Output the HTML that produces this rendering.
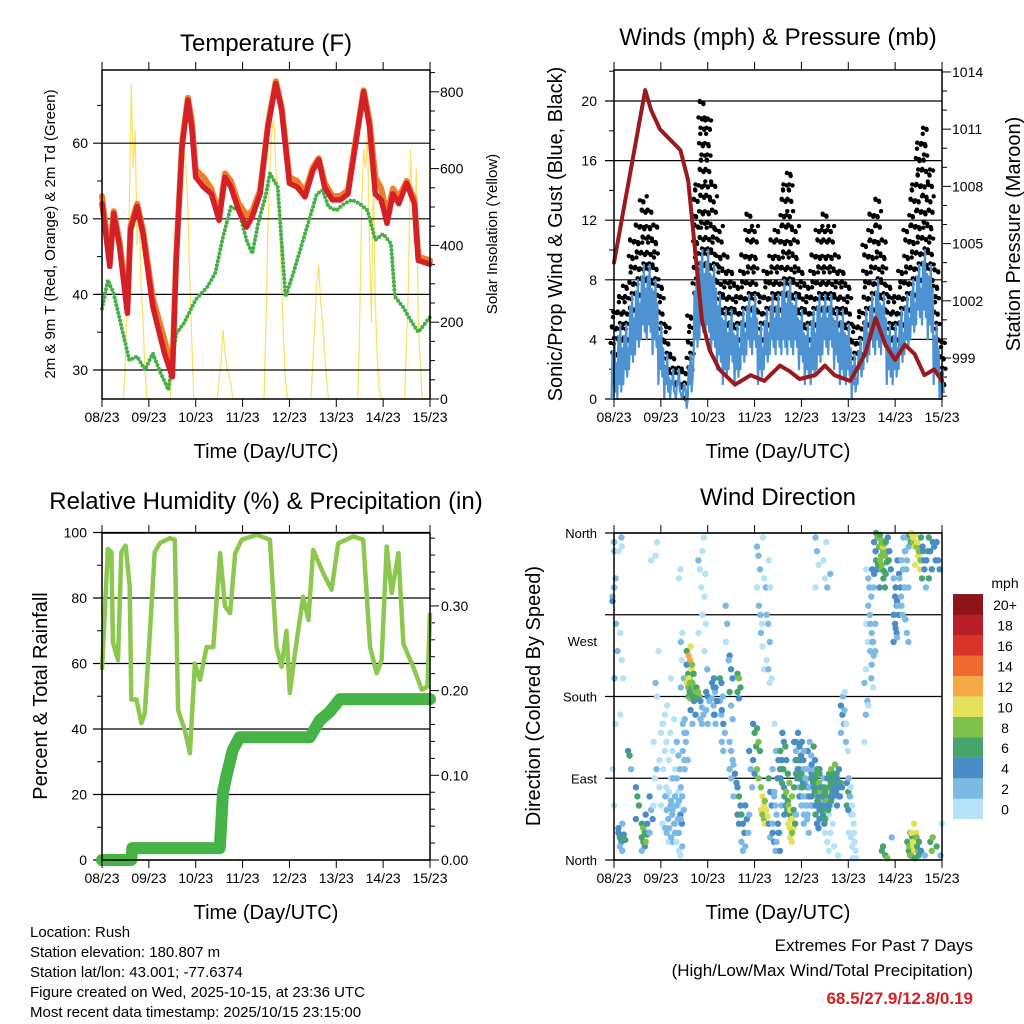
<!DOCTYPE html>
<html><head><meta charset="utf-8">
<style>
html,body{margin:0;padding:0;background:#fff;}
svg{display:block;font-family:"Liberation Sans",Arial,sans-serif;}
</style></head>
<body>
<svg id="fig" width="1024" height="1024" viewBox="0 0 1024 1024" xmlns="http://www.w3.org/2000/svg">
<text x="266" y="51" font-size="24" text-anchor="middle">Temperature (F)</text>
<text x="778" y="45" font-size="24" text-anchor="middle">Winds (mph) &amp; Pressure (mb)</text>
<text x="266" y="509" font-size="24" text-anchor="middle">Relative Humidity (%) &amp; Precipitation (in)</text>
<text x="778" y="505" font-size="24" text-anchor="middle">Wind Direction</text>
<text x="266" y="458" font-size="20" text-anchor="middle">Time (Day/UTC)</text>
<text x="778" y="458" font-size="20" text-anchor="middle">Time (Day/UTC)</text>
<text x="266" y="919" font-size="20" text-anchor="middle">Time (Day/UTC)</text>
<text x="778" y="919" font-size="20" text-anchor="middle">Time (Day/UTC)</text>
<text transform="translate(55,234) rotate(-90)" font-size="15" text-anchor="middle">2m &amp; 9m T (Red, Orange) &amp; 2m Td (Green)</text>
<text transform="translate(497,234) rotate(-90)" font-size="15" text-anchor="middle">Solar Insolation (Yellow)</text>
<text transform="translate(562,234) rotate(-90)" font-size="20" text-anchor="middle">Sonic/Prop Wind &amp; Gust (Blue, Black)</text>
<text transform="translate(1020,234) rotate(-90)" font-size="20" text-anchor="middle">Station Pressure (Maroon)</text>
<text transform="translate(47,696) rotate(-90)" font-size="20" text-anchor="middle">Percent &amp; Total Rainfall</text>
<text transform="translate(540,696) rotate(-90)" font-size="20" text-anchor="middle">Direction (Colored By Speed)</text>
<g font-size="15">
<text x="30" y="937">Location: Rush</text>
<text x="30" y="957">Station elevation: 180.807 m</text>
<text x="30" y="977">Station lat/lon: 43.001; -77.6374</text>
<text x="30" y="997">Figure created on Wed, 2025-10-15, at 23:36 UTC</text>
<text x="30" y="1017">Most recent data timestamp: 2025/10/15 23:15:00</text>
</g>
<g text-anchor="end">
<text x="973" y="951" font-size="17">Extremes For Past 7 Days</text>
<text x="973" y="976" font-size="17">(High/Low/Max Wind/Total Precipitation)</text>
<text x="973" y="1004" font-size="17" font-weight="bold" fill="#d42027">68.5/27.9/12.8/0.19</text>
</g>
</svg>
<script>
const dayLabels = ["08/23","09/23","10/23","11/23","12/23","13/23","14/23","15/23"];
const tempT = [0,4,6,9,13,14.6,18,21,26,32,36,38,41,44,46,48,52,56,60,63,66,70,74,77,81,85,89,92,96,100,104,108,111,114,118,122,126,130,134,137,140,143,146,149,152,156,160,162,168];
const tempRed = [52,43.7,50.7,46.3,37.5,48.5,51.6,48,38.4,32.2,29.1,44.5,59.5,65.7,62,55.5,54.2,53.3,49.8,55.5,54.2,51.1,48.9,50.3,53.3,62.2,67.9,64.4,54.7,54.2,52.9,56.4,57.8,54.2,52.5,52.5,53.3,60,66.8,62.2,53.3,52.5,49.4,53.3,52,54.7,52,44.5,44];
const tempOrange = [53,44.5,51,47,38,49,52,48.5,39.5,34,30,45,60,66,63,56.5,55.5,54,50.5,56,55,52,50.5,51,53.8,62.5,68.2,64.8,55.5,55,53.5,56.8,58,54.8,53,53,53.8,60.5,67,63,55.5,54,50.5,54,52.8,55,52.5,45,44.5];
const dewT = [0,3,6,10,14,18,22,26,30,34,38,42,48,54,58,62,66,70,74,77,80,84,86,90,94,98,102,106,110,113,116,120,124,128,132,136,140,144,148,150,154,158,162,168];
const dewV = [38.1,41.9,40.1,35.7,31.3,31.8,30,32.2,29.6,27.4,34.8,36.2,39.3,41,42.8,47.6,51.6,51.1,47.2,45.4,49.4,53.3,56,54.2,39.7,42.8,46.3,49.8,53.3,53.8,51.6,51.1,52,52.5,52,51.1,47.2,48,46.7,39.7,38.4,36.6,35,37];
const solarT = [0,11,12,13,14,15,16,17,18,19,20,21,22,23, 35,36,37,38,39,40,41,42,43,44,45,46,47, 59,60,61,62,63,64,65,66,67, 83,84,85,86,87,88,89,90,91,92,93,94,95, 107,108,109,110,111,112,113,114,115,116, 131,132,133,134,135,136,137,138,139,140,141,142,143, 155,156,157,158,159,160,161,162,163,164,168];
const solarV = [0,0,100,300,500,820,600,700,400,500,300,200,80,0, 0,150,300,450,550,650,700,650,600,500,300,150,0, 0,50,100,180,120,80,60,40,0, 0,200,450,600,700,730,600,550,450,300,150,50,0, 0,100,200,300,350,250,200,120,50,0, 0,200,500,650,600,700,400,200,600,250,100,30,0, 0,150,300,650,500,400,600,200,100,0,0];
const pressT = [0,16,19,23.5,34,38,41.5,45,49,54,62,70,77,85,90,95,103,108,113,121,128.6,134,139,144,149,154,159,164,168];
const pressV = [1004,1013.05,1012,1011,1009.9,1008.3,1004.7,1001,999.4,998.4,997.6,998.1,997.8,998.6,998.3,997.9,998.1,998.6,998.1,997.8,999.2,1001.1,999.7,998.9,999.7,999.2,998.1,998.4,997.8];
const windT = [0,3,6,9,12,15,18,21,24,27,30,33,36,39,42,45,48,51,54,57,60,63,66,69,72,75,78,81,84,87,90,93,96,99,102,105,108,111,114,117,120,123,126,129,132,135,138,141,144,147,150,153,156,159,162,165,168];
const windLo = [0,0,1,2,3,4,4,3,1,0,0,0,0,0,3,4,4,3,2,1,2,1,2,3,3,1,2,3,3,3,3,3,2,1,1,2,3,3,2,1,1,0,1,2,3,3,3,1,1,2,3,4,5,5,4,1,0];
const windHi = [4,5,5,7,8,9,9,8,5,3,2,2,1,3,8,10,10,9,7,6,6,5,6,7,7,5,6,7,7,8,8,7,6,5,6,7,7,7,6,6,5,3,4,6,7,8,7,5,5,6,7,8,9,10,9,5,2];
const gustV = [6,7,8,11,12,14,13,12,8,5,3,2,2,6,15,20,19,15,12,10,9,8,10,13,12,7,9,11,12,15,16,12,9,8,10,12,13,12,10,9,8,5,6,11,13,14,11,8,7,9,12,15,17,18,16,9,4];
const rhT = [0,3,4.8,5.6,8.2,9.9,12.1,14.2,15,17.6,20.2,21.9,24.4,27,29.6,34.7,37.3,39,42.4,45,47.6,50.2,53.6,57,60.5,63,65.6,68.2,71.6,79.3,86,89.4,92,94.5,96.2,98.8,103,105.7,108.2,113.3,117.6,121,128.7,133.8,137.3,140.7,143.2,145.8,148.4,151.8,154.4,159.4,163.8,166.7,168];
const rhV = [58,95,94,66.5,61,94,96,83.5,49,49,41.8,44.8,68,94,96.7,98.3,97.8,45.8,39.7,32.6,60,55,65,65,93.7,77.4,75.4,93.7,97.8,99.3,97.8,65,59,70,51,63,80.4,73.3,94.7,87.6,82.5,96.7,98.8,97.8,65,57,61,95.7,81.5,93.7,66,59,52,53,75.4];
const precipT = [0,15,15.5,60.3,61,62,63.8,67,70.5,106.5,111.6,116.7,121.9,168];
const precipV = [0,0,0.014,0.014,0.04,0.08,0.10,0.13,0.145,0.145,0.165,0.175,0.19,0.19];
const dirHours = [0,1,3,4,5,8,12,15,17,19,21,22,24,26,28,30,32,34,35,
38,39,40,41,43,45,48,51,55,60,64,
36,33,31,
27,29,30,32,34,35,
37,44,46,47,
60,62,64,66,68,70,72,74,76,78,80,82,
94,96,98,100,102,104,106,108,110,112,114,
52,56,58,
74,75,76,77,79,80,
82,83,84,85,86,87,88,89,90,91,92,93,94,95,96,97,98,99,100,101,
102,103,104,105,106,107,108,109,110,111,112,113,114,115,116,
117,118,119,120,121,122,123,124,
129,130,131,132,133,134,135,136,137,138,139,140,141,
143,144,145,146,147,148,149,150,
150,151,152,153,154,155,156,157,158,159,160,162,164,166,168];
const dirValues = [
[290,300,310,285,350,150,100,60],[340,260,230,200],[30,25,20,35,15,355,340],[250,220,200,160,345],[40,28,22,10],[120,115,100],[80,70,60,45],[40,35,30,25,20,15,10],[50,40,30,20,28],[70,55,45,30,330],[60,90,100,130],[335,350,230,195,180],[110,140,150,80,60,40],
[100,120,130,150,160,80],[70,110,140,170,20],[90,120,155,200,50],[100,130,60,30],[310,320,220,10,5],[240,250,200,190],
[215,205,200,195,190,185,230],[225,220,210,200,195,190,180,178],[235,215,205,195,185,180,165],[195,190,185,180,175,160,150],[190,185,180,178],[175,168,160,155,150],[185,180,175,165,150],[195,190,185,178,170,160],[200,195,180,175,160],[225,210,200,185,170,155],[205,200,190,185,178],[150,140,130,120,110],[130,115,100,90,75],[90,60,40,20],
[70,55,45,35,30],[75,60,50,35],[65,55,40,25],[70,60,45,30,20],[65,50,40,30],[80,70,55,45,15],[155,140,110,100],[330,320,300,250],[340,355,315,270],[290,260,210,230],
[130,120,110,100,90],[105,95,85,70],[80,70,60,50,40],[50,40,30,20,10],[60,45,30,15],[120,100,80,50],[150,140,125,110,95],[145,130,120,100,90],[80,70,60,55,50,45],[65,55,48,40],[90,75,60,40,25],[30,20,10],
[130,110,100,95,90,80],[110,95,80,70,60],[100,85,70,50],[120,100,90,80,70],[95,85,75,60],[80,70,60,50,40,35,355,340,325,300],[100,80,65,45],[90,80,60,40,30,350,330,310],[70,50,30,20,10,315,300],[60,40,15],[95,85,5],[200,190,175,160,150],[165,150,140,130,120],[280,260,220,240],
[345,335,320,300],[280,270,260],[250,235,210],[355,310,300],[270,260,240,220,210,195],[330,300,200],
[100,70,60,40],[150,120,90,75],[50,40,30,20],[110,100,60,30,10],[120,110,100,90,85],[140,130,125,100,80],[70,60,55,50],[110,95,85,75,65],[60,50,45,40,35],[55,45,35,25,20],[70,55,40,30],[130,110,90,80],[120,100,70,50],[140,125,115,100,90],[110,95,85,70],[130,110,90,80,70],[120,90,60,40],[60,45,30],[100,80,60,50],[130,115,100],
[105,90,80,70,60],[125,110,95,80],[90,80,70,60],[100,85,75,65],[95,80,70,55],[60,50,40],[80,70,65,55,45],[75,65,55,45],[90,80,70,60],[95,85,75,60],[100,90,80,65],[95,85,75,70],[105,95,85,75],[90,80,70,60],[100,85,80,70],[170,160,150,140],[180,165,130],[185,150,120],
[85,75,70,60,55],[90,70,50,30],[80,60,40,25,15],[50,30,10,2],[20,2],[130,160,175,195,210],[260,240,300,320],[310,300,290,280,270,200,170],[260,250,240,230,215,190],[320,300,260,240,225,230],[350,340,320,315],[360,355,345,330,320],[355,345,335,325,300],[358,350,340,330,320,15],[352,345,335,325,310,300,10],[348,338,328,318,5],[350,340,330,315,2],[355,340,320],
[25],[310,290,280,270,260,250,240],[300,285,270,255,245],[330,315,300,280],[310,290,270],[330,320,300,280],[355,340,320],[265,250,240],
[340,330,300,265],[355,345,30,20,10,5],[358,350,25,15,5],[360,350,40,30,20,10,5],[355,345,30,15,2],[358,345,335,325,25,10],[350,340,320,15,5],[340,330,310,20],[355,345,330,10],[340,320,300],[5,330,340],[355,340,320,310,20,10],[350,345,330,25],[350,330,320,15],[5,40]
];
const dirSpeeds = [
[3,3,2,4,2,1,1,1],[3,2,2,2],[4,6,5,4,3,2,1],[1,1,1,0,1],[3,5,6,2],[4,6,2],[4,6,6,5],[6,8,7,6,6,5,3],[5,4,5,8,7],[4,3,4,3,1],[1,1,2,1],[1,1,1,2,0],[1,1,1,1,0,0],
[0,0,0,0,1,0],[0,0,0,1,0],[0,1,0,1,0],[0,0,0,0],[1,0,1,0,0],[2,1,2,3],
[4,6,8,10,8,7,6],[12,12,10,10,9,6,6,8],[10,8,6,9,6,4,4],[8,8,8,6,4,4,3],[7,8,8,7],[4,3,2,3,2],[4,4,3,2,3],[4,4,3,3,2,2],[6,4,3,3,2],[4,4,4,6,2,2],[6,8,6,6,4],[3,2,2,2,2],[2,2,2,2,1],[2,1,1,2],
[2,2,2,2,3],[1,2,2,2],[2,3,2,2],[2,3,3,2,1],[3,4,4,3],[3,2,2,2,2],[3,2,2,3],[2,1,1,1],[1,1,1,0],[1,1,2,1],
[2,2,2,3,2],[3,4,4,3],[4,6,5,4,4],[6,4,4,3,3],[4,4,2,2],[4,3,2,2],[4,6,6,4,4],[6,8,6,8,8],[8,10,10,10,9,8],[8,10,10,10],[6,4,4,4,2],[4,4,2],
[4,4,4,6,4,2],[4,4,3,4,3],[3,2,2,2],[4,4,6,4,4],[4,6,6,4],[6,8,6,6,4,4,2,2,1,1],[4,4,3,4],[3,2,2,1,0,1,1,1],[1,1,0,0,0,3,2],[1,0,0],[0,1,0],[4,4,4,4,2],[4,4,2,2,2],[2,2,2,1],
[2,2,2,1],[2,2,1],[2,1,1],[1,1,2],[2,2,2,1,2,1],[1,1,1],
[2,2,3,2],[1,2,4,2],[2,4,2,2],[4,4,2,4,4],[6,4,6,4,6],[4,4,6,6,4],[6,4,6,4],[4,6,8,8,6],[8,6,8,10,10],[10,10,10,10,10],[8,6,6,8],[4,4,4,6],[3,3,2,2],[4,4,4,4,6],[6,6,4,4],[4,4,4,6,2],[3,3,2,2],[2,2,2],[3,3,3,2],[3,2,3],
[4,4,4,4,2],[6,4,6,4],[6,6,4,4],[6,8,8,6],[6,4,4,4],[4,4,4],[6,6,4,6,4],[6,8,6,6],[4,6,4,4],[6,6,6,4],[8,6,4,6],[6,6,6,4],[8,6,4,4],[4,4,4,4],[4,6,4,4],[4,4,3,3],[2,2,2],[1,1,1],
[4,6,6,6,4],[2,2,2,0],[0,0,0,0,0],[0,0,0,0],[0,0],[1,2,2,2,1],[1,1,2,1],[2,2,2,2,2,2,0],[2,2,2,2,2,1],[4,2,2,2,2,2],[4,4,4,4],[6,6,6,6,4],[8,8,8,6,4],[6,8,8,8,8,6],[8,10,8,8,6,6,6],[8,8,6,6,6],[6,8,6,6,8],[4,4,4],
[2],[2,4,4,4,4,4,4],[4,4,4,4,2],[4,4,4,2],[2,2,2],[2,2,2,2],[2,2,2],[2,2,2],
[2,2,2,2],[2,2,4,6,6,6],[6,6,6,8,8],[10,8,10,10,10,10,8],[10,10,10,10,6],[10,8,10,10,8,8],[10,10,10,6,6],[8,8,6,6],[6,4,4,4],[4,4,2],[2,4,6],[6,4,4,6,6,8],[4,4,4,8],[4,4,4,6],[2,0]
];
const dirColors = ["#b5e2f6","#7db9e5","#4a8cc6","#47a56c","#7dc04b","#e5e05a","#f5a846","#ef6a30","#d9342b","#b91f27","#8d1519"];
const cbLabels = ["0","2","4","6","8","10","12","14","16","18","20+"];

const NS = "http://www.w3.org/2000/svg";
const svg = document.getElementById("fig");
function mk(tag, attrs, parent){ const e=document.createElementNS(NS,tag); for(const k in attrs) e.setAttribute(k,attrs[k]); (parent||svg).appendChild(e); return e; }
function txt(x,y,s,size,anchor,parent){ const e=mk("text",{x:x,y:y,"font-size":size,"text-anchor":anchor},parent); e.textContent=s; return e; }
function pathOf(ts,vs,fx,fy){ return ts.map((t,i)=>(i?"L":"M")+fx(t).toFixed(1)+","+fy(vs[i]).toFixed(1)).join(""); }

function panelFrame(name){
  const g=mk("g",{});
  
  
  return g;
}
function xAxis(g,x0,x1,y0,y1){
  const X=t=>x0+t*(x1-x0)/168;
  dayLabels.forEach((d,i)=>{
    const x=X(i*24);
    mk("line",{x1:x,x2:x,y1:y0-8,y2:y0,stroke:"#000","stroke-width":1},g);
    mk("line",{x1:x,x2:x,y1:y1,y2:y1+8,stroke:"#000","stroke-width":1},g);
    const t=txt(x,y1+23,d,14,"middle",g);
    
    
  });
}
function box(g,x0,x1,y0,y1){ mk("rect",{x:x0,y:y0,width:x1-x0,height:y1-y0,fill:"none",stroke:"#000","stroke-width":1.5},g); }
function hgrid(g,x0,x1,y,major){ mk("line",{x1:major?x0-9:x0-5,x2:major?x1:x0,y1:y,y2:y,stroke:"#000","stroke-width":major?1.2:1},g); }
function rtick(g,x1,y,major){ mk("line",{x1:x1,x2:x1+(major?9:5),y1:y,y2:y,stroke:"#000","stroke-width":1},g); }

// ===== Panel 1: Temperature =====
(function(){
  const x0=102,x1=430,y0=70,y1=399;
  const g=panelFrame("temperature-panel");
  const X=t=>x0+t*(x1-x0)/168, Y=v=>370-(v-30)*7.56, YS=v=>399-v*0.384;
  const sol=mk("path",{d:pathOf(solarT,solarV,X,YS),fill:"none",stroke:"#fbe15e","stroke-width":1.2},g);
  
  
  for(let v=30;v<=65;v+=5){ hgrid(g,x0,x1,Y(v),v%10===0); }
  [30,40,50,60].forEach(v=>{ const t=txt(88,Y(v)+5,String(v),14,"end",g);   });
  for(let v=0;v<=850;v+=50){ rtick(g,x1,YS(v),v%200===0); }
  [0,200,400,600,800].forEach(v=>{ const t=txt(440,YS(v)+5,String(v),14,"start",g);   });
  const o=mk("path",{d:pathOf(tempT,tempOrange,X,Y),fill:"none",stroke:"#f07d2b","stroke-width":6,"stroke-linejoin":"round","stroke-linecap":"round"},g);
  
  
  const dw=mk("path",{d:pathOf(dewT,dewV,X,Y),fill:"none",stroke:"#45b046","stroke-width":4,"stroke-dasharray":"0 4","stroke-linecap":"round"},g);
  
  
  const r=mk("path",{d:pathOf(tempT,tempRed,X,Y),fill:"none",stroke:"#d42027","stroke-width":5.5,"stroke-linejoin":"round","stroke-linecap":"round"},g);
  
  
  xAxis(g,x0,x1,y0,y1); box(g,x0,x1,y0,y1);
})();

// ===== Panel 2: Winds & Pressure =====
(function(){
  const x0=614,x1=942,y0=70,y1=399;
  const g=panelFrame("winds-panel");
  const X=t=>x0+t*(x1-x0)/168, Y=v=>399-v*14.9, YP=p=>358-(p-999)*19.07;
  for(let v=0;v<=22;v+=2){ hgrid(g,x0,x1,Y(v),v%4===0); }
  [0,4,8,12,16,20].forEach(v=>{ const t=txt(597,Y(v)+5,String(v),14,"end",g);   });
  for(let p=997;p<=1014;p++){ rtick(g,x1,YP(p),(p-999)%3===0); }
  [999,1002,1005,1008,1011,1014].forEach(p=>{ const t=txt(952,YP(p)+5,String(p),14,"start",g);   });
  const step=(x1-x0)/168*3;
  windT.forEach((t,i)=>{
    let n=0;
    for(let v=windHi[i]-1; v<=gustV[i]; v+=0.9){
      for(let k=0;k<4;k++){
        n++;
        const c=mk("circle",{cx:(X(t)+(k-1.5)*step/4+((n*3)%5-2)*0.6).toFixed(1),cy:(Y(v)+((k*7+n)%7-3)).toFixed(1),r:2.2,fill:"#000"},g);
        
        
      }
    }
  });
  let d="";
  windT.forEach((t,i)=>{
    for(let k=0;k<6;k++){
      const xx=X(t)+(k-2.5)*step/6;
      const v=k%2?windHi[i]-(k%3)*0.8:windLo[i]+(k%3)*0.5;
      d+=(d?"L":"M")+xx.toFixed(1)+","+Y(v).toFixed(1);
    }
  });
  const w=mk("path",{d:d,fill:"none",stroke:"#4d92d2","stroke-width":2.2,"stroke-linejoin":"round"},g);
  
  
  const p=mk("path",{d:pathOf(pressT,pressV,X,YP),fill:"none",stroke:"#9a1b1e","stroke-width":4,"stroke-linejoin":"round","stroke-linecap":"round"},g);
  
  
  xAxis(g,x0,x1,y0,y1); box(g,x0,x1,y0,y1);
})();

// ===== Panel 3: RH & Precip =====
(function(){
  const x0=102,x1=430,y0=533,y1=860;
  const g=panelFrame("humidity-panel");
  const X=t=>x0+t*(x1-x0)/168, Y=v=>860-v*3.275, YP=v=>860-v*847;
  for(let v=0;v<=100;v+=10){ hgrid(g,x0,x1,Y(v),v%20===0); }
  [0,20,40,60,80,100].forEach(v=>{ const t=txt(87,Y(v)+5,String(v),14,"end",g);   });
  for(let k=0;k<=19;k++){ const v=k*0.02; if(YP(v)<y0) break; rtick(g,x1,YP(v),k%5===0); }
  [0,0.1,0.2,0.3].forEach(v=>{ const t=txt(441,YP(v)+5,v.toFixed(2),14,"start",g);   });
  const rh=mk("path",{d:pathOf(rhT,rhV,X,Y),fill:"none",stroke:"#8cc84f","stroke-width":4.5,"stroke-linejoin":"round"},g);
  
  
  const pr=mk("path",{d:pathOf(precipT,precipV,X,YP),fill:"none",stroke:"#46b347","stroke-width":12,"stroke-linejoin":"round","stroke-linecap":"round"},g);
  
  
  xAxis(g,x0,x1,y0,y1); box(g,x0,x1,y0,y1);
})();

// ===== Panel 4: Wind Direction =====
(function(){
  const x0=614,x1=942,y0=533,y1=860;
  const g=panelFrame("wind-direction-panel");
  const X=t=>x0+t*(x1-x0)/168, Y=d=>860-d*(327/360);
  [0,90,180,270,360].forEach(d=>hgrid(g,x0,x1,Y(d),true));
  const names=["North","East","South","West","North"], labY=[Y(0),Y(90),Y(180),641,Y(360)];
  names.forEach((n,i)=>{ const t=txt(597,labY[i]+5,n,13,"end",g);   });
  dirHours.forEach((t,i)=>{
    dirValues[i].forEach((d,j)=>{
      const s=dirSpeeds[i][j];
      const c=mk("circle",{cx:(X(t)+(j%3-1)*1.5).toFixed(1),cy:Y(d).toFixed(1),r:3.2,fill:dirColors[Math.min(10,Math.floor(s/2))]},g);
      
      
    });
  });
  xAxis(g,x0,x1,y0,y1); box(g,x0,x1,y0,y1);
  const cb=mk("g",{});
  
  
  txt(1005,588,"mph",14,"middle",cb);
  dirColors.forEach((c,i)=>{
    const yy=819-(i+1)*20.45;
    mk("rect",{x:953,y:yy,width:30,height:20.6,fill:c},cb);
    const t=txt(1005,yy+16,cbLabels[i],14,"middle",cb);
    
    
  });
})();
</script>
</body></html>
